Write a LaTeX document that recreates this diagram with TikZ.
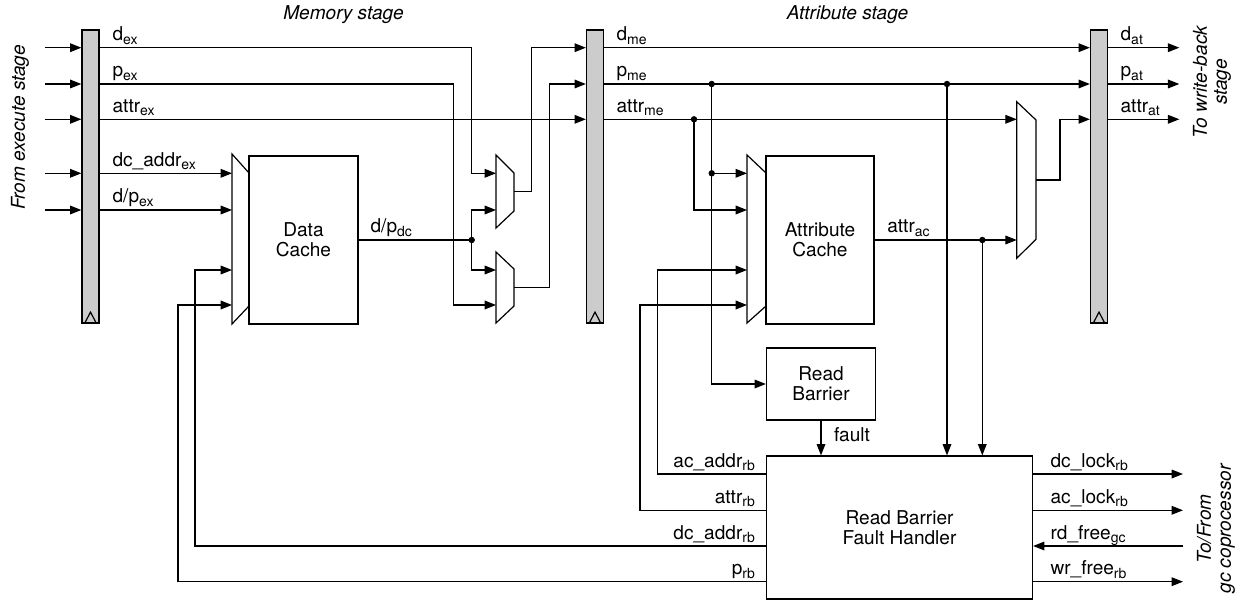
\documentclass[tikz,border=0pt]{standalone}
\usepackage{fontspec}
\setmainfont{TeX Gyre Heros}
\usetikzlibrary{arrows.meta}
\newcommand{\sbx}[1]{\raisebox{-2.5pt}{\fontsize{10.5}{10.5}\selectfont #1}}
\begin{document}
\begin{tikzpicture}[x=0.75pt,y=-0.75pt, line width=0.9pt,
  every node/.style={font=\fontsize{14.3}{15}\selectfont, inner sep=0pt},
  arr/.style={-{Triangle[length=8.5pt,width=6.5pt]}},
  reg/.style={draw, fill=black!20, minimum width=12.75pt, minimum height=219.75pt},
  blk/.style={draw, fill=white, align=center},
  lbl/.style={anchor=base west},
  lblr/.style={anchor=base east},
  muxs/.style={draw, fill=white, line join=miter},
  stage/.style={font=\fontsize{14.3}{15}\selectfont\itshape}]
\useasboundingbox (0,0) rectangle (1241,602);

% registers
\node[reg] (R1) at (90.5,176.5) {};
\node[reg] (R2) at (595,176.5) {};
\node[reg] (R3) at (1099,176.5) {};
\foreach \r in {R1,R2,R3}
  \draw (\r.south) ++(-6,0) -- ++(6,-11.5) -- ++(6,11.5);

% muxes
\draw[muxs] (232,154) -- (249,173) -- (249,306) -- (232,324) -- cycle;
\draw[muxs] (496,155) -- (514,173) -- (514,211) -- (496,228) -- cycle;
\draw[muxs] (496,252) -- (514,269) -- (514,306) -- (496,323) -- cycle;
\draw[muxs] (747,155) -- (766,173) -- (766,306) -- (747,323) -- cycle;
\draw[muxs] (1016.7,101.7) -- (1036,120) -- (1036,239.3) -- (1016.7,258.3) -- cycle;

% blocks
\node[blk, minimum width=81.75pt, minimum height=126pt] (DC) at (303.5,240) {Data\\Cache};
\node[blk, minimum width=81pt, minimum height=126pt] (AC) at (820,240) {Attribute\\Cache};
\node[blk, minimum width=81.75pt, minimum height=54pt] (RB) at (821,384) {Read\\Barrier};
\node[blk, minimum width=199.5pt, minimum height=107.25pt] (FH) at (899.5,527.5) {Read Barrier\\Fault Handler};

% pins
\coordinate (M0a) at (232,173.3); \coordinate (M0b) at (232,210);
\coordinate (M0c) at (232,270);   \coordinate (M0d) at (232,305);
\coordinate (M1a) at (496,173.3); \coordinate (M1b) at (496,210); \coordinate (M1o) at (514,191.7);
\coordinate (M2a) at (496,270);   \coordinate (M2b) at (496,305); \coordinate (M2o) at (514,287.3);
\coordinate (MAa) at (747,173.3); \coordinate (MAb) at (747,210);
\coordinate (MAc) at (747,270);   \coordinate (MAd) at (747,305);
\coordinate (M3a) at (1016.7,119.3); \coordinate (M3b) at (1016.7,240); \coordinate (M3o) at (1036,180);
% junctions
\coordinate (jdp) at (471.7,240);
\coordinate (jp1) at (711.7,84);
\coordinate (jp2) at (711.7,173.3);
\coordinate (ja1) at (694,119.3);
\coordinate (jp3) at (947,84);
\coordinate (jac) at (982.3,240);
% free ends
\coordinate (e1) at (45,47.7); \coordinate (e2) at (45,84); \coordinate (e3) at (45,119.3);
\coordinate (e4) at (45,173.3); \coordinate (e5) at (45,210);
\coordinate (o1) at (1179.3,47.7); \coordinate (o2) at (1179.3,84); \coordinate (o3) at (1179.3,119.3);
\coordinate (g1) at (1183,474); \coordinate (g2) at (1183,510.3);
\coordinate (g3) at (1183,546); \coordinate (g4) at (1183,581.7);

% inputs into R1
\foreach \e in {e1,e2,e3,e4,e5} \draw[arr] (\e) -- (R1.west |- \e);

% memory stage wires
\draw[arr] (R1.east |- e1) -| (471.7,173.3) -- (M1a);
\draw[arr] (R1.east |- e2) -| (453.3,305) -- (M2b);
\draw[arr] (R1.east |- e3) -- (R2.west |- e3);
\draw[arr] (R1.east |- M0a) -- (M0a);
\draw[arr] (R1.east |- M0b) -- (M0b);
\draw (DC.east |- jdp) -- (jdp);
\draw[arr] (jdp) |- (M1b);
\draw[arr] (jdp) |- (M2a);
\draw[arr] (M1o) -| (531.7,47.7) -- (R2.west |- e1);
\draw[arr] (M2o) -| (549.3,84) -- (R2.west |- e2);

% attribute stage wires
\draw[arr] (R2.east |- e1) -- (R3.west |- e1);
\draw[arr] (R2.east |- e2) -- (R3.west |- e2);
\draw[arr] (R2.east |- M3a) -- (M3a);
\draw[arr] (jp1) |- (RB.west);
\draw[arr] (jp2) -- (MAa);
\draw[arr] (ja1) |- (MAb);
\draw[arr] (FH.west |- g1) -| (657.7,270) -- (MAc);
\draw[arr] (FH.west |- g2) -| (640,305) -- (MAd);
\draw[arr] (FH.west |- g3) -| (195,270) -- (M0c);
\draw[arr] (FH.west |- g4) -| (178,305) -- (M0d);
\draw[arr] (AC.east) -- (M3b);
\draw[arr] (jac) -- (jac |- FH.north);
\draw[arr] (jp3) -- (jp3 |- FH.north);
\draw[arr] (M3o) -| (1060,119.3) -- (R3.west |- e3);
\draw[arr] (RB.south) -- (RB.south |- FH.north);
\foreach \o in {o1,o2,o3} \draw[arr] (R3.east |- \o) -- (\o);
\draw[arr] (FH.east |- g1) -- (g1);
\draw[arr] (FH.east |- g2) -- (g2);
\draw[arr] (g3) -- (FH.east |- g3);
\draw[arr] (FH.east |- g4) -- (g4);

\foreach \j in {jdp,jp1,jp2,ja1,jp3,jac} \fill (\j) circle (2.4pt);

% labels
\node[lbl] (t1) at (112,40.7) {d\sbx{ex}};
\node[lbl] (t2) at (112,77) {p\sbx{ex}};
\node[lbl] (t3) at (112,112.3) {attr\sbx{ex}};
\node[lbl] (t4) at (112,166.3) {dc\_addr\sbx{ex}};
\node[lbl] (t5) at (112,203) {d/p\sbx{ex}};
\node[lbl] (t6) at (370,233) {d/p\sbx{dc}};
\node[lbl] (t7) at (616,40.7) {d\sbx{me}};
\node[lbl] (t8) at (616,77) {p\sbx{me}};
\node[lbl] (t9) at (616,112.3) {attr\sbx{me}};
\node[lbl] (t10) at (886.7,233) {attr\sbx{ac}};
\node[lbl] (t11) at (1120,40.7) {d\sbx{at}};
\node[lbl] (t12) at (1120,77) {p\sbx{at}};
\node[lbl] (t13) at (1120,112.3) {attr\sbx{at}};
\node[lbl] (t14) at (833.5,441) {fault};
\node[lblr] (t15) at (755.4,467) {ac\_addr\sbx{rb}};
\node[lblr] (t16) at (755.4,503.3) {attr\sbx{rb}};
\node[lblr] (t17) at (755.4,539) {dc\_addr\sbx{rb}};
\node[lblr] (t18) at (755.4,574.7) {p\sbx{rb}};
\node[lbl] (t19) at (1050,467) {dc\_lock\sbx{rb}};
\node[lbl] (t20) at (1050,503.3) {ac\_lock\sbx{rb}};
\node[lbl] (t21) at (1050,539) {rd\_free\sbx{gc}};
\node[lbl] (t22) at (1050,574.7) {wr\_free\sbx{rb}};

\node[stage] (s1) at (343.5,15) {Memory stage};
\node[stage] (s2) at (847.5,15) {Attribute stage};
\node[stage, rotate=90] (s3) at (20,127.5) {From execute stage};
\node[stage, rotate=90, align=center] (s4) at (1212,82) {To write-back\\stage};
\node[stage, rotate=90, align=center] (s5) at (1216,529) {To/From\\gc coprocessor};
\end{tikzpicture}
\end{document}
